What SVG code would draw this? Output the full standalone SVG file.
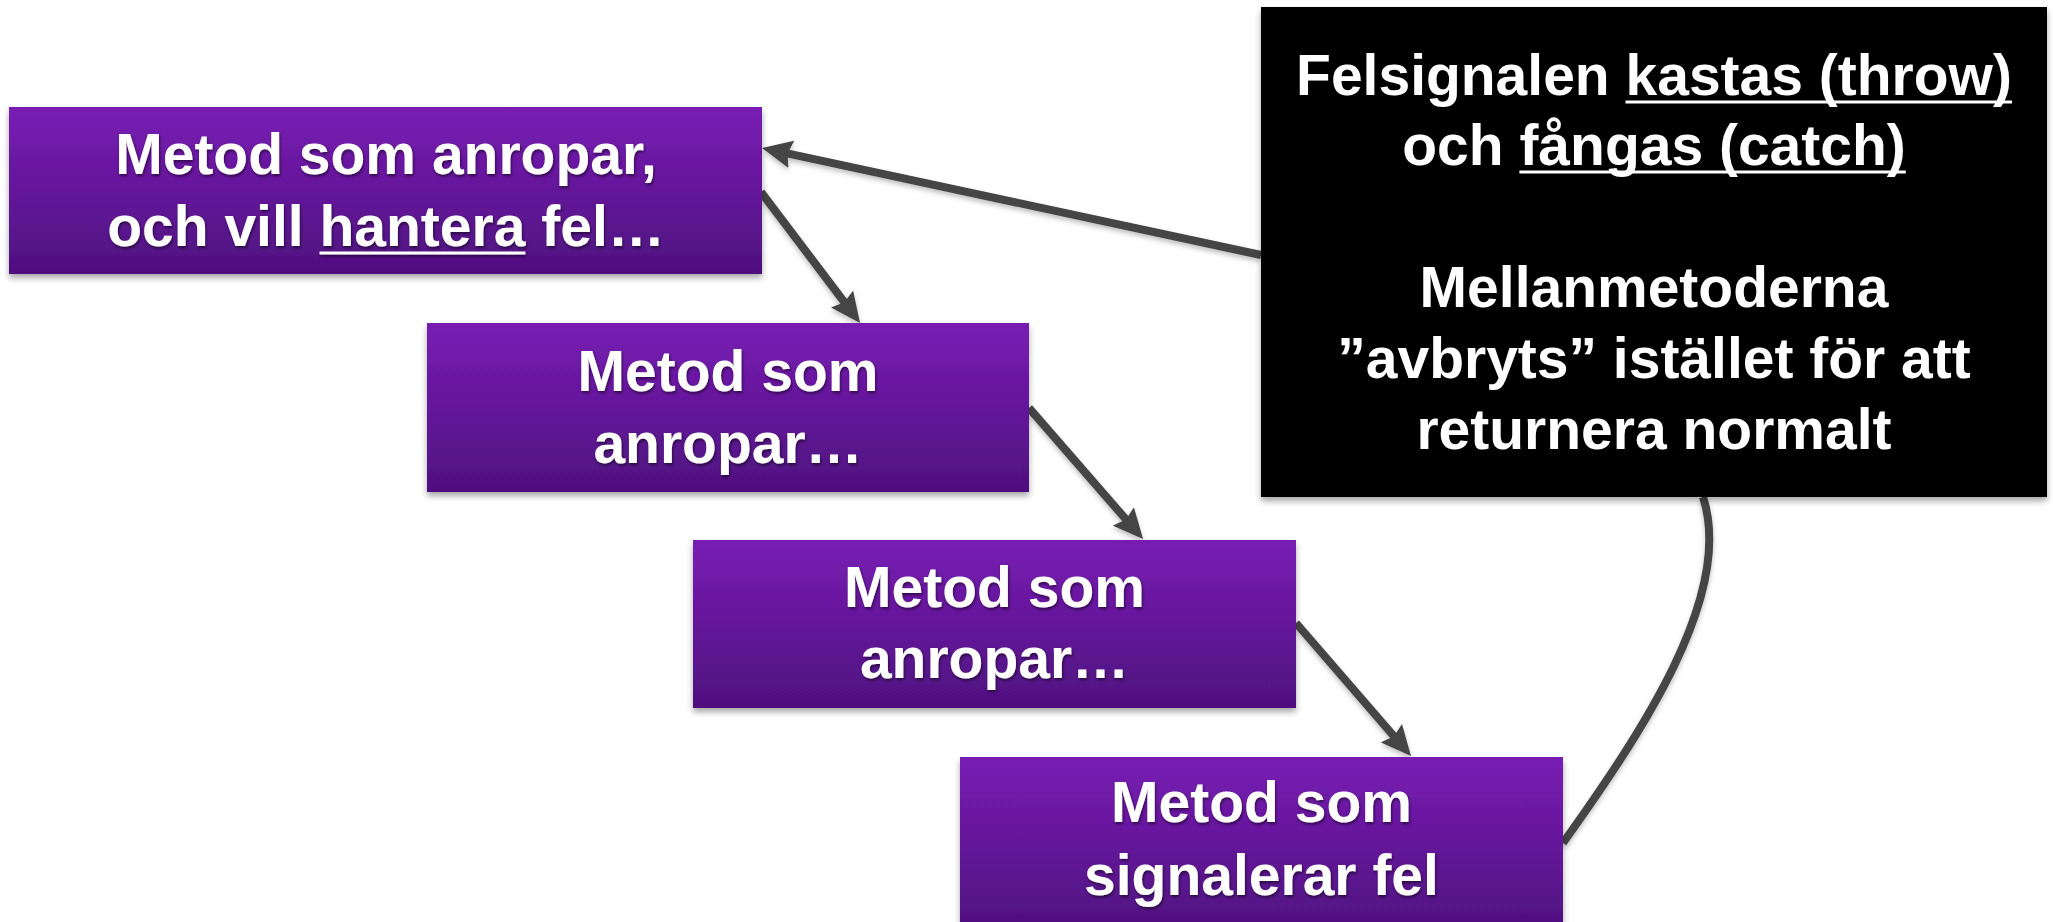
<svg xmlns="http://www.w3.org/2000/svg" width="2053" height="922" viewBox="0 0 2053 922">
  <defs>
    <linearGradient id="purple" x1="0" y1="0" x2="0" y2="1">
      <stop offset="0" stop-color="#781db4"/>
      <stop offset="1" stop-color="#4f107f"/>
    </linearGradient>
    <filter id="boxShadow" x="-5%" y="-10%" width="110%" height="130%">
      <feDropShadow dx="0" dy="4" stdDeviation="3" flood-color="#000" flood-opacity="0.35"/>
    </filter>
    <filter id="lineShadow" x="-10%" y="-10%" width="120%" height="130%">
      <feDropShadow dx="0" dy="3" stdDeviation="2.5" flood-color="#000" flood-opacity="0.25"/>
    </filter>
    <filter id="textShadow" x="-5%" y="-20%" width="110%" height="150%">
      <feDropShadow dx="1" dy="2" stdDeviation="1.5" flood-color="#000" flood-opacity="0.55"/>
    </filter>
    <marker id="arrow" markerUnits="userSpaceOnUse" viewBox="0 0 30 28" markerWidth="30" markerHeight="28" refX="15" refY="14" orient="auto">
      <path d="M0,0 L30,14 L0,28 L4,14 Z" fill="#454545"/>
    </marker>
    <style>
      .box { fill: url(#purple); filter: url(#boxShadow); }
      .note { fill: #000; filter: url(#boxShadow); }
      .lbl { font-family: "Liberation Sans", Arial, sans-serif; font-weight: bold; font-size: 57px; fill: #fff; text-anchor: middle; }
      .shadowed { filter: url(#textShadow); }
      .ul { stroke: #fff; stroke-width: 3; }
      .conn { fill: none; stroke: #454545; stroke-width: 8; }
    </style>
  </defs>
  <rect width="2053" height="922" fill="#fff"/>

  <g id="connectors" filter="url(#lineShadow)">
    <path class="conn" d="M1261,255 L776.7,151.1" marker-end="url(#arrow)"/>
    <path class="conn" d="M761,192 L851,311" marker-end="url(#arrow)"/>
    <path class="conn" d="M1029,408 L1133.2,527.7" marker-end="url(#arrow)"/>
    <path class="conn" d="M1296,623 L1401.2,744.6" marker-end="url(#arrow)"/>
    <path class="conn" d="M1563,843 C1640,735 1735,595 1703,497" stroke-width="7"/>
  </g>

  <g id="node1">
    <rect class="box" x="9" y="107" width="753" height="167"/>
    <g class="shadowed">
      <text class="lbl" x="386" y="174">Metod som anropar,</text>
      <text class="lbl" x="386" y="246">och vill hantera fel…</text>
      <line class="ul" x1="319.5" y1="253" x2="525.4" y2="253"/>
    </g>
  </g>

  <g id="node2">
    <rect class="box" x="427" y="323" width="602" height="169"/>
    <text class="lbl shadowed" x="728" y="391">Metod som</text>
    <text class="lbl shadowed" x="728" y="463">anropar…</text>
  </g>

  <g id="node3">
    <rect class="box" x="693" y="540" width="603" height="168"/>
    <text class="lbl shadowed" x="994.5" y="607">Metod som</text>
    <text class="lbl shadowed" x="994.5" y="678">anropar…</text>
  </g>

  <g id="node4">
    <rect class="box" x="960" y="757" width="603" height="175"/>
    <text class="lbl shadowed" x="1261.5" y="822">Metod som</text>
    <text class="lbl shadowed" x="1261.5" y="895">signalerar fel</text>
  </g>

  <g id="note">
    <rect class="note" x="1261" y="7" width="786" height="490"/>
    <text class="lbl" x="1654" y="95">Felsignalen kastas (throw)</text>
    <line class="ul" x1="1625.5" y1="102" x2="2012" y2="102"/>
    <text class="lbl" x="1654" y="165">och fångas (catch)</text>
    <line class="ul" x1="1519.4" y1="172" x2="1905.8" y2="172"/>
    <text class="lbl" x="1654" y="307">Mellanmetoderna</text>
    <text class="lbl" x="1654" y="378">”avbryts” istället för att</text>
    <text class="lbl" x="1654" y="449">returnera normalt</text>
  </g>
</svg>
